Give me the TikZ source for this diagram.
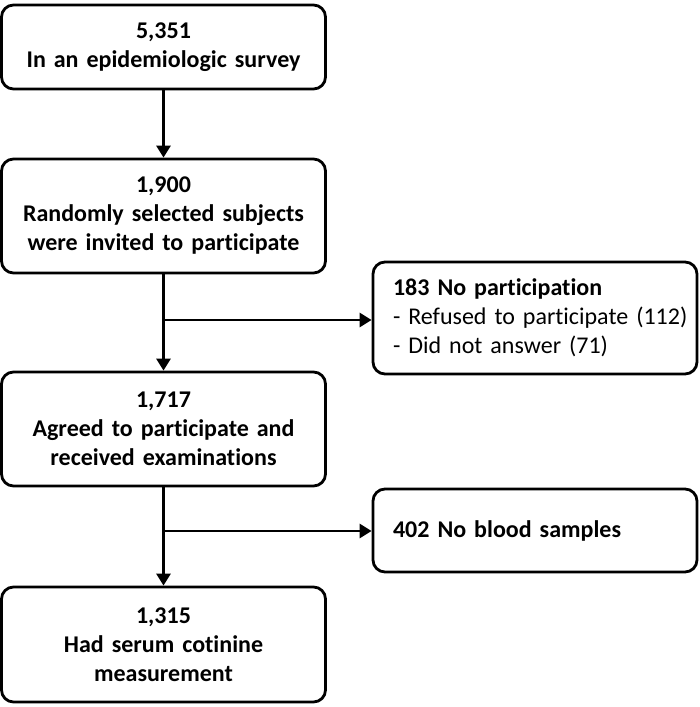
\documentclass[tikz,border=0pt]{standalone}
\usepackage{fontspec}
\setmainfont{Carlito}[Ligatures=NoCommon]
\usetikzlibrary{arrows.meta}

\begin{document}
\begin{tikzpicture}[x=1pt, y=-1pt,
    stepbox/.style={draw, line width=2.8pt, rounded corners=12pt,
        inner xsep=6pt, text width=312pt, align=center,
        font=\bfseries\fontsize{24}{29}\selectfont},
    sidebox/.style={draw, line width=2.8pt, rounded corners=12pt,
        inner xsep=20pt, text width=284pt, align=left,
        font=\fontsize{24}{29}\selectfont},
    flow/.style={line width=2.8pt, -{Triangle[length=12pt,width=14pt]}}]
    % page
    \useasboundingbox (0,0) rectangle (700,707);

    % main column
    \node[stepbox, minimum height=84pt]  (survey)   at (163.5,47)    {5,351\\In an epidemiologic survey};
    \node[stepbox, minimum height=114pt] (invited)  at (163.5,216)   {1,900\\Randomly selected subjects\\were invited to participate};
    \node[stepbox, minimum height=114pt] (agreed)   at (163.5,429)   {1,717\\Agreed to participate and\\received examinations};
    \node[stepbox, minimum height=115pt] (cotinine) at (163.5,644.5) {1,315\\Had serum cotinine\\measurement};

    % exclusions
    \node[sidebox, minimum height=112pt] (nopart)  at (535,318)   {\textbf{183 No participation}\\\mbox{- Refused to participate (112)}\\- Did not answer (71)};
    \node[sidebox, minimum height=83pt]  (noblood) at (535,530.5) {\textbf{402 No blood samples}};

    \coordinate (split1) at (163.5,320);
    \coordinate (split2) at (163.5,531);

    % arrows
    \draw[flow] (survey) -- (invited);
    \draw[flow] (invited) -- (agreed);
    \draw[flow] (split1) -- (split1 -| nopart.west);
    \draw[flow] (agreed) -- (cotinine);
    \draw[flow] (split2) -- (split2 -| noblood.west);
\end{tikzpicture}
\end{document}
